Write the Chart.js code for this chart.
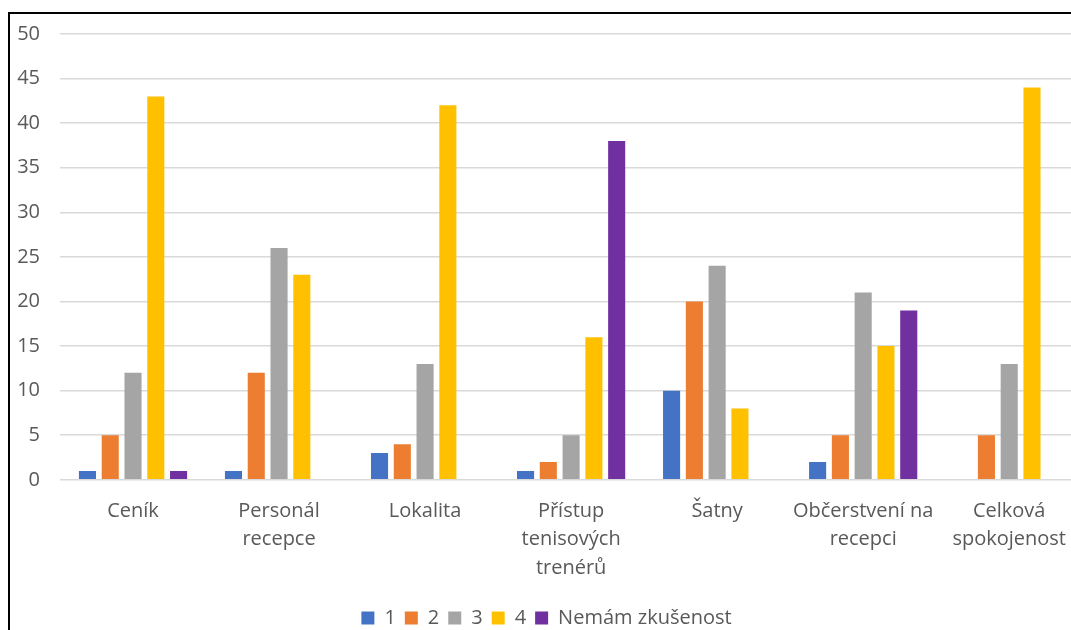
<!DOCTYPE html>
<html>
<head>
<meta charset="utf-8">
<script src="https://cdn.jsdelivr.net/npm/chart.js@4/dist/chart.umd.min.js"></script>
<style>
  html, body { margin: 0; padding: 0; background: #fff; overflow: hidden; }
  #frame {
    position: absolute; left: 8px; top: 12px;
    border-left: 2px solid #000; border-top: 2px solid #000;
    width: 1100px; height: 640px;
  }
  #box { position: absolute; left: 0; top: -12px; width: 1073px; height: 641px; }
</style>
</head>
<body>
<div id="frame"><div id="box"><canvas id="myChart"></canvas></div></div>
<script>
// categories
const labels = [
  'Ceník',
  ['Personál', 'recepce'],
  'Lokalita',
  ['Přístup', 'tenisových', 'trenérů'],
  'Šatny',
  ['Občerstvení na', 'recepci'],
  ['Celková', 'spokojenost']
];

// series values (one per category)
const s1 = [1, 1, 3, 1, 10, 2, 0];
const s2 = [5, 12, 4, 2, 20, 5, 5];
const s3 = [12, 26, 13, 5, 24, 21, 13];
const s4 = [43, 23, 42, 16, 8, 15, 44];
const s5 = [1, 0, 0, 38, 0, 19, 0];

const seriesNames = ['1', '2', '3', '4', 'Nemám zkušenost'];

const FONT = "'Open Sans', sans-serif";
const GREY = '#595959';

const data = {
  labels: labels,
  datasets: [
    { label: seriesNames[0], data: s1, backgroundColor: '#4472C4' },
    { label: seriesNames[1], data: s2, backgroundColor: '#ED7D31' },
    { label: seriesNames[2], data: s3, backgroundColor: '#A5A5A5' },
    { label: seriesNames[3], data: s4, backgroundColor: '#FFC000' },
    { label: seriesNames[4], data: s5, backgroundColor: '#7030A0' }
  ]
};

const config = {
  type: 'bar',
  data: data,
  options: {
    responsive: true,
    maintainAspectRatio: false,
    animation: false,
    categoryPercentage: 0.78,
    barPercentage: 0.75,
    layout: { padding: { top: 2, right: 0, left: 0, bottom: 5 } },
    plugins: {
      tooltip: { enabled: false },
      legend: {
        position: 'bottom',
        labels: {
          boxWidth: 13,
          boxHeight: 13,
          padding: 9,
          color: GREY,
          font: { family: FONT, size: 20 }
        }
      }
    },
    scales: {
      x: {
        grid: { display: false, drawTicks: false },
        border: { display: true, color: '#D9D9D9', width: 1 },
        ticks: {
          color: GREY,
          padding: 17,
          maxRotation: 0,
          autoSkip: false,
          font: { family: FONT, size: 20, lineHeight: 1.42 }
        }
      },
      y: {
        min: 0,
        max: 50,
        afterFit: function (scale) { scale.width = 50; },
        grid: { color: '#D9D9D9', lineWidth: 1.5, drawTicks: false },
        border: { display: false },
        ticks: {
          stepSize: 5,
          color: GREY,
          padding: 20,
          font: { family: FONT, size: 20 }
        }
      }
    }
  }
};

const myChart = new Chart(document.getElementById('myChart'), config);
</script>
</body>
</html>
